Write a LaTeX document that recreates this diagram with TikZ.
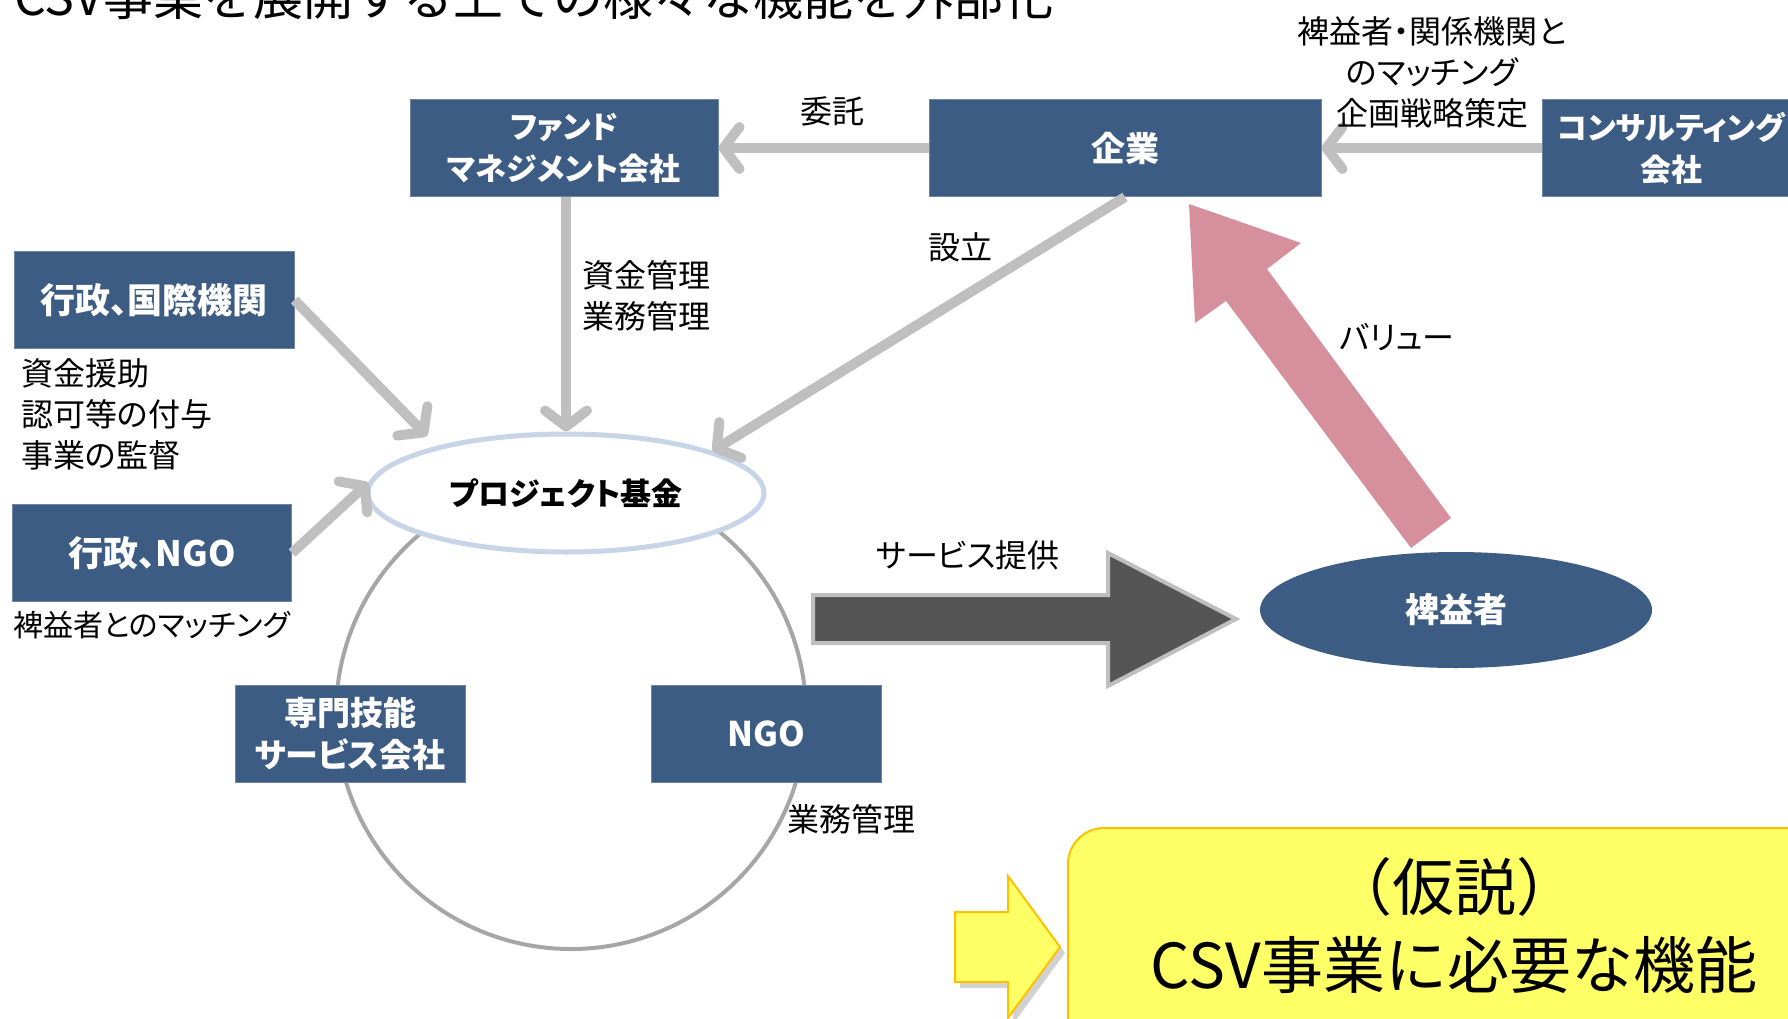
\documentclass[tikz,border=0pt]{standalone}
\usepackage{fontspec}
\setmainfont{Noto Sans CJK JP}[RawFeature=+palt]
\newfontfamily\jpfull{Noto Sans CJK JP}
\usetikzlibrary{arrows.meta,calc,shapes.geometric}
\definecolor{boxblue}{RGB}{61,92,131}
\definecolor{arrgray}{RGB}{191,191,191}
\definecolor{circgray}{RGB}{166,166,166}
\definecolor{ellborder}{RGB}{200,213,232}
\definecolor{pinkarr}{RGB}{214,143,156}
\definecolor{darkarr}{RGB}{85,85,85}
\definecolor{yfill}{RGB}{255,255,102}
\definecolor{ygold}{RGB}{255,192,0}
\begin{document}
\begin{tikzpicture}[x=1pt,y=-1pt,
  bluebox/.style={rectangle, fill=boxblue, draw=boxblue!75!white, line width=1pt, text=white,
    font=\bfseries\fontsize{31}{42}\selectfont, align=center, inner sep=0pt, minimum height=97pt},
  bigbox/.style={bluebox, font=\bfseries\fontsize{35}{42}\selectfont},
  lbl/.style={font=\fontsize{32}{41}\selectfont, text=black, inner sep=0pt},
  garrow/.style={draw=arrgray, line width=10pt, -{Straight Barb[length=16pt,width=42pt,round]}},
]
\useasboundingbox (0,0) rectangle (1788,1018);

% title (cut at the top, as in the reference)
\node[anchor=base west, inner sep=0pt, font=\jpfull\fontsize{50}{60}\selectfont] (title) at (14,15) {CSV事業を展開する上での様々な機能を外部化};

% ring behind the project fund
\node[circle, draw=circgray, line width=4pt, minimum size=470pt, inner sep=0pt] (ring) at (571,714) {};

% boxes
\node[bluebox, minimum width=308pt] (fund) at (564,148) {ファンド\\マネジメント会社};
\node[bluebox, minimum width=392pt, font=\bfseries\fontsize{34}{42}\selectfont] (kigyo) at (1125,148) {企業};
\node[bluebox, minimum width=258pt] (consult) at (1671,148) {コンサルティング\\会社};
\node[bigbox, minimum width=280pt] (gov1) at (154,300) {行政、国際機関};
\node[bigbox, minimum width=279pt] (gov2) at (152,553) {行政、NGO};
\node[bluebox, minimum width=230pt, font=\bfseries\fontsize{33}{42}\selectfont] (senmon) at (350,734) {専門技能\\サービス会社};
\node[bluebox, minimum width=230pt, font=\bfseries\fontsize{34}{42}\selectfont] (ngo) at (766,734) {NGO};

% ellipses
\node[ellipse, draw=ellborder, line width=5pt, fill=white, minimum width=396pt, minimum height=118pt, inner sep=0pt,
  font=\bfseries\fontsize{31}{40}\selectfont] (proj) at (566,493) {プロジェクト基金};
\node[ellipse, fill=boxblue, minimum width=392pt, minimum height=116pt, inner sep=0pt, text=white,
  font=\bfseries\fontsize{34}{40}\selectfont] (benef) at (1456,610) {裨益者};

% gray connectors
\draw[garrow] (consult.west) -- (kigyo.east);
\draw[garrow] (kigyo.west) -- (fund.east);
\draw[garrow] (proj.north |- fund.south) -- (proj.north);
\draw[garrow] (kigyo.south) -- (proj.16);
\draw[garrow, shorten >=14pt] (gov1.east) -- (proj.160);
\draw[garrow] (gov2.east) -- (proj.177);

% service arrow
\draw[fill=darkarr, draw=arrgray, line width=4pt, line join=miter]
  (813,595) -- (1108,595) -- (1108,553) -- (1236,619) -- (1108,686) -- (1108,643) -- (813,643) -- cycle;

% value arrow
\fill[pinkarr] (1189,204) -- (1301,243) -- (1267,269) -- (1451,518) -- (1411,548) -- (1226,301) -- (1195,323) -- cycle;

% yellow arrow and box
\fill[black, opacity=0.18] (960,918) -- (1013,918) -- (1013,882) -- (1065,953) -- (1013,1024) -- (1013,988) -- (960,988) -- cycle;
\draw[fill=yfill, draw=ygold, line width=2pt]
  (955,912) -- (1008,912) -- (1008,876) -- (1060,947) -- (1008,1018) -- (1008,982) -- (955,982) -- cycle;
\draw[fill=yfill, draw=ygold, line width=2pt, rounded corners=36pt] (1068,828) rectangle (1830,1060);
\node[inner sep=0pt, align=center, font=\jpfull\fontsize{62}{78}\selectfont] (hyp) at (1454,926) {（仮説）\\CSV事業に必要な機能};

% labels
\node[lbl] (itaku) at (832,111) {委託};
\node[lbl, align=left, anchor=west] (shikin) at (582,296) {資金管理\\業務管理};
\node[lbl] (setsuritsu) at (960,247) {設立};
\node[lbl, align=center] (matching) at (1432,72) {裨益者・関係機関と\\のマッチング\\企画戦略策定};
\node[lbl, align=left, anchor=west] (gov1lbl) at (21,414) {資金援助\\認可等の付与\\事業の監督};
\node[lbl, anchor=west, font=\fontsize{30}{41}\selectfont] (gov2lbl) at (13,625) {裨益者とのマッチング};
\node[lbl] (gyomu) at (851,819) {業務管理};
\node[lbl] (service) at (968,555) {サービス提供};
\node[lbl] (value) at (1397,337) {バリュー};
\end{tikzpicture}
\end{document}
